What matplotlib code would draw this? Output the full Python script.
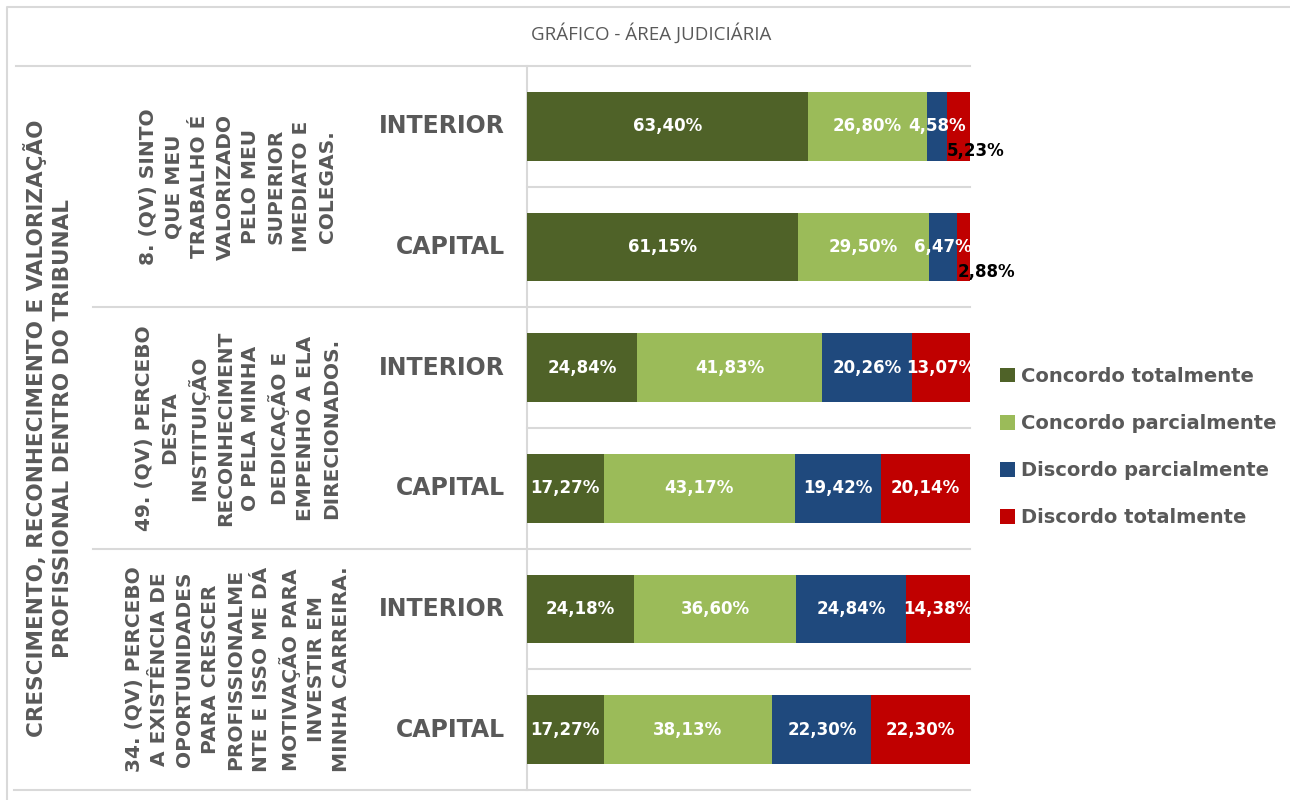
import numpy as np
import matplotlib.pyplot as plt
from matplotlib.patches import Patch
from matplotlib.transforms import blended_transform_factory

# data
title = "GRÁFICO - ÁREA JUDICIÁRIA"
theme = "CRESCIMENTO, RECONHECIMENTO E VALORIZAÇÃO\nPROFISSIONAL DENTRO DO TRIBUNAL"
questions = [
    "8. (QV) SINTO\nQUE MEU\nTRABALHO É\nVALORIZADO\nPELO MEU\nSUPERIOR\nIMEDIATO E\nCOLEGAS.",
    "49. (QV) PERCEBO\nDESTA\nINSTITUIÇÃO\nRECONHECIMENT\nO PELA MINHA\nDEDICAÇÃO E\nEMPENHO A ELA\nDIRECIONADOS.",
    "34. (QV) PERCEBO\nA EXISTÊNCIA DE\nOPORTUNIDADES\nPARA CRESCER\nPROFISSIONALME\nNTE E ISSO ME DÁ\nMOTIVAÇÃO PARA\nINVESTIR EM\nMINHA CARREIRA.",
]
places = ["INTERIOR", "CAPITAL"]
series = ["Concordo totalmente", "Concordo parcialmente",
          "Discordo parcialmente", "Discordo totalmente"]
conc_tot = [63.40, 61.15, 24.84, 17.27, 24.18, 17.27]
conc_par = [26.80, 29.50, 41.83, 43.17, 36.60, 38.13]
disc_par = [4.58, 6.47, 20.26, 19.42, 24.84, 22.30]
disc_tot = [5.23, 2.88, 13.07, 20.14, 14.38, 22.30]
colors = ['#4F6228', '#9BBB59', '#1F497D', '#C00000']

gray = '#595959'
grid = '#D9D9D9'
W, H = 1290, 800

fig = plt.figure(figsize=(12.9, 8), dpi=100)
# overlay in pixel coordinates for frame lines and header texts
ov = fig.add_axes([0, 0, 1, 1])
ov.set_xlim(0, W)
ov.set_ylim(H, 0)
ov.axis('off')

ax = fig.add_axes([527 / W, 10 / H, 443 / W, 724 / H])
ax.set_facecolor('none')
vals = [conc_tot, conc_par, disc_par, disc_tot]
n = len(conc_tot)
ypos = np.arange(n)
left = np.zeros(n)
for k, (v, c, name) in enumerate(zip(vals, colors, series)):
    v = np.array(v)
    ax.barh(ypos, v, left=left, height=0.57, color=c, label=name, zorder=3)
    for i in range(n):
        txt = f"{v[i]:.2f}%".replace('.', ',')
        cx = left[i] + v[i] / 2
        if k == len(vals) - 1 and v[i] < 6:
            ax.annotate(txt, (left[i], i), xytext=(0, -18), textcoords='offset points',
                        ha='left', va='center', color='black', fontsize=12,
                        fontweight='bold', zorder=5)
        else:
            ax.text(cx, i, txt, ha='center', va='center', color='white',
                    fontsize=12, fontweight='bold', zorder=5)
    left += v

ax.set_xlim(0, 100)
ax.set_ylim(n - 0.5, -0.5)
ax.set_xticks([])
ax.set_yticks([])
for s in ['top', 'right', 'bottom']:
    ax.spines[s].set_visible(False)
ax.spines['left'].set_color(grid)
ax.spines['left'].set_linewidth(1.5)

# row separators
tr = blended_transform_factory(ov.transData, ax.transData)
for b in np.arange(0.5, n - 0.5, 1):
    x0 = 527 if int(b + 0.5) % 2 else 93
    ov.plot([x0, 970], [b, b], color=grid, lw=1.5, transform=tr, clip_on=False)
ov.plot([16, 970], [-0.5, -0.5], color=grid, lw=1.5, transform=tr, clip_on=False)
ov.plot([14, 970], [n - 0.5, n - 0.5], color=grid, lw=1.5, transform=tr, clip_on=False)

# chart border
ov.plot([7, 7, W], [H, 7, 7], color=grid, lw=1.5)

# category labels
for i in range(n):
    ov.text(505, i, places[i % 2], transform=tr, ha='right', va='center',
            color=gray, fontsize=17, fontweight='bold')
for g, q in enumerate(questions):
    ov.text(238, 2 * g + 0.5, q, transform=tr, rotation=90, ha='center', va='center',
            multialignment='center', color=gray, fontsize=14.5, fontweight='bold',
            linespacing=1.43)
ov.text(48, (n - 1) / 2, theme, transform=tr, rotation=90, ha='center', va='center',
        multialignment='center', color=gray, fontsize=15.5, fontweight='bold',
        linespacing=1.38)

ov.text(W / 2 + 6, 33, title, ha='center', va='center', color=gray,
        fontsize=13.5, family='Open Sans')

handles = [Patch(facecolor=c, label=s) for c, s in zip(colors, series)]
leg = fig.legend(handles=handles, loc='center left', bbox_to_anchor=(982 / W, 1 - 447 / H),
                 frameon=False, handlelength=0.8, handleheight=0.8, handletextpad=0.3,
                 labelspacing=1.45, prop={'weight': 'bold', 'size': 14})
for t in leg.get_texts():
    t.set_color(gray)

fig.savefig('out.png', dpi=100)
